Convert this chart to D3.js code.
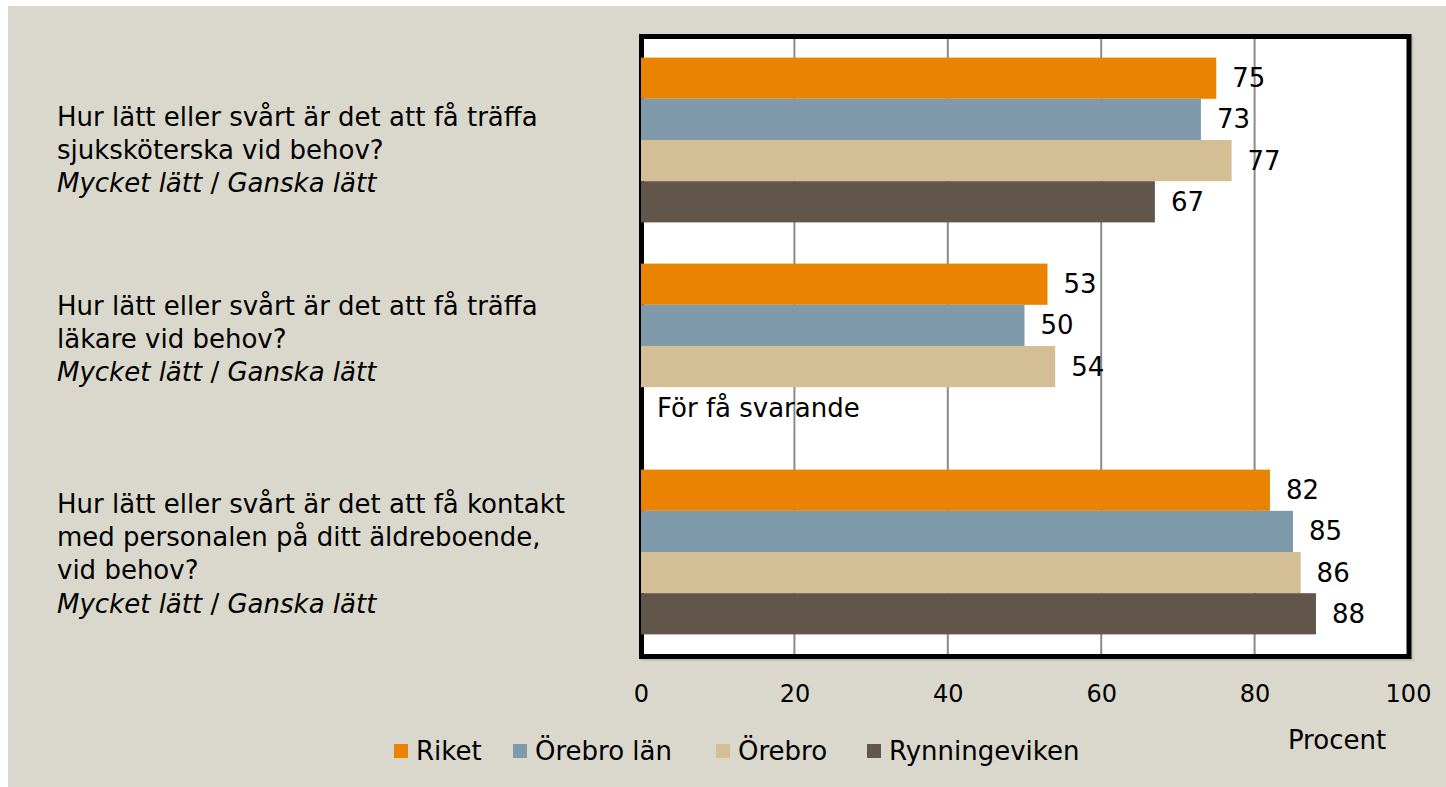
<!DOCTYPE html>
<html>
<head>
<meta charset="utf-8">
<script src="https://cdn.jsdelivr.net/npm/d3@7"></script>
<style>
  html, body { margin: 0; padding: 0; background: #ffffff; }
  svg { display: block; }
  text { font-family: "DejaVu Sans", sans-serif; fill: #000; }
</style>
</head>
<body>
<svg id="chart" width="1446" height="787"></svg>
<script>
// ---- data ----
const categories = ["sjukskoterska", "lakare", "kontakt"];
const categoryLines = [
  ["Hur lätt eller svårt är det att få träffa", "sjuksköterska vid behov?"],
  ["Hur lätt eller svårt är det att få träffa", "läkare vid behov?"],
  ["Hur lätt eller svårt är det att få kontakt", "med personalen på ditt äldreboende,", "vid behov?"]
];
const subLineParts = ["Mycket lätt", " / ", "Ganska lätt"];
const seriesNames = ["Riket", "Örebro län", "Örebro", "Rynningeviken"];
const riket = [75, 53, 82];
const orebroLan = [73, 50, 85];
const orebro = [77, 54, 86];
const rynningeviken = [67, null, 88];
const xTicks = [0, 20, 40, 60, 80, 100];
const noDataText = "För få svarande";
const axisTitle = "Procent";

// ---- style ----
const colors = ["#E98300", "#7F9AAB", "#D4BE95", "#62554A"];
const bg = "#DAD8CC";
const W = 1446, H = 787;

const svg = d3.select("#chart");
svg.append("rect").attr("x", 8).attr("y", 6).attr("width", W - 8).attr("height", H - 6).attr("fill", bg);

const plot = { left: 641.5, top: 36.5, right: 1409, bottom: 656.5 };

const x = d3.scaleLinear().domain([0, 100]).range([641, 1408]);
const y0 = d3.scaleBand().domain(categories).range([37, 655]).paddingInner(0.2).paddingOuter(0.1);
const y1 = d3.scaleBand().domain(seriesNames).range([0, y0.bandwidth()]);

const seriesValues = [riket, orebroLan, orebro, rynningeviken];

// shadow
svg.append("rect")
  .attr("x", plot.left + 2).attr("y", plot.top + 2)
  .attr("width", plot.right - plot.left).attr("height", plot.bottom - plot.top)
  .attr("fill", "none").attr("stroke", "#c4c2b8").attr("stroke-width", 5);

// plot background
svg.append("rect")
  .attr("x", plot.left).attr("y", plot.top)
  .attr("width", plot.right - plot.left).attr("height", plot.bottom - plot.top)
  .attr("fill", "#ffffff");

// gridlines
svg.append("g").selectAll("line").data(xTicks.filter(t => t > 0 && t < 100)).join("line")
  .attr("x1", d => x(d)).attr("x2", d => x(d))
  .attr("y1", plot.top).attr("y2", plot.bottom)
  .attr("stroke", "#8a8a8a").attr("stroke-width", 2);

// frame
svg.append("rect")
  .attr("x", plot.left).attr("y", plot.top)
  .attr("width", plot.right - plot.left).attr("height", plot.bottom - plot.top)
  .attr("fill", "none").attr("stroke", "#000").attr("stroke-width", 5);

// bars
const gBars = svg.append("g");
categories.forEach((cat, ci) => {
  seriesNames.forEach((s, si) => {
    const v = seriesValues[si][ci];
    const yy = y0(cat) + y1(s);
    if (v == null) {
      gBars.append("text")
        .attr("x", x(0) + 16).attr("y", yy + y1.bandwidth() / 2)
        .attr("dominant-baseline", "central")
        .style("font-size", "26px")
        .text(noDataText);
      return;
    }
    gBars.append("rect")
      .attr("x", x(0)).attr("y", yy)
      .attr("width", x(v) - x(0)).attr("height", y1.bandwidth())
      .attr("fill", colors[si]);
    gBars.append("text")
      .attr("x", x(v) + 16).attr("y", yy + y1.bandwidth() / 2)
      .attr("dominant-baseline", "central")
      .style("font-size", "26px")
      .text(v);
  });
});

// x axis labels
const xAxis = d3.axisBottom(x).tickValues(xTicks).tickSize(0).tickPadding(0);
const gx = svg.append("g").attr("transform", "translate(0,676)").call(xAxis);
gx.select(".domain").remove();
gx.selectAll("text")
  .attr("y", 26).attr("dy", 0)
  .style("font-family", "'DejaVu Sans', sans-serif")
  .style("font-size", "24px").attr("fill", "#000");

svg.append("text").attr("x", 1337).attr("y", 749).attr("text-anchor", "middle")
  .style("font-size", "26px").text(axisTitle);

// category labels
const lineH = 33.2;
const nudge = [12.7, -4.3, 4.2];
const gLab = svg.append("g");
categories.forEach((cat, ci) => {
  const lines = categoryLines[ci];
  const n = lines.length + 1;
  const cy = y0(cat) + y0.bandwidth() / 2 + nudge[ci];
  const first = cy - (n - 1) / 2 * lineH + 6.5;
  const t = gLab.append("text").attr("x", 57).style("font-size", "26px");
  lines.forEach((ln, li) => {
    t.append("tspan").attr("x", 57).attr("y", first + li * lineH).text(ln);
  });
  const sub = gLab.append("text").attr("x", 57).attr("y", first + lines.length * lineH).style("font-size", "26px");
  subLineParts.forEach((p, pi) => {
    sub.append("tspan").style("font-style", pi === 1 ? "normal" : "italic").text(p);
  });
});

// legend
const legendX = [394, 513, 716, 867];
const gLeg = svg.append("g");
seriesNames.forEach((s, si) => {
  gLeg.append("rect").attr("x", legendX[si]).attr("y", 744).attr("width", 14).attr("height", 14).attr("fill", colors[si]);
  gLeg.append("text").attr("x", legendX[si] + 22).attr("y", 760).style("font-size", "26px").text(s);
});
</script>
</body>
</html>
